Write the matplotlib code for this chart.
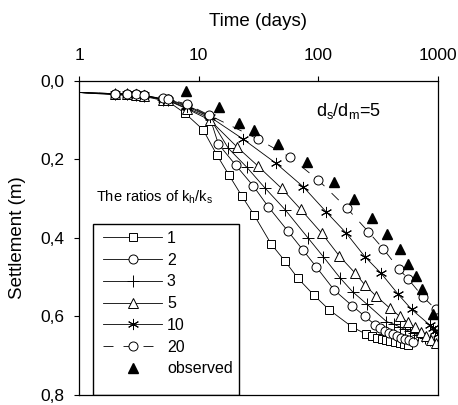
import matplotlib
matplotlib.use("Agg")
import matplotlib.pyplot as plt
from matplotlib.patches import Rectangle
from matplotlib.ticker import NullLocator

plt.rcParams['font.family'] = ['Liberation Sans', 'DejaVu Sans']
plt.rcParams['mathtext.fontset'] = 'custom'
plt.rcParams['mathtext.rm'] = 'Liberation Sans'
plt.rcParams['mathtext.it'] = 'Liberation Sans:italic'

# ---- data (time in days, settlement in m) ----
t_r1 = [1, 2, 2.5, 3, 3.5, 5, 5.5, 7.7, 10.9, 14.2, 17.9, 23, 29.2, 40.4, 52.6, 67.1, 92, 123, 192,
        250, 280, 310, 340, 370, 400, 440, 480, 520, 560]
s_r1 = [0.03, 0.036, 0.037, 0.038, 0.04, 0.05, 0.052, 0.083, 0.125, 0.189, 0.24, 0.294, 0.343, 0.416,
        0.459, 0.502, 0.546, 0.583, 0.627, 0.645, 0.651, 0.655, 0.658, 0.661, 0.663, 0.666, 0.668,
        0.67, 0.672]

t_r2 = [1, 2, 2.5, 3, 3.5, 5, 5.5, 8, 12.3, 14.6, 20.4, 28.6, 38.2, 55.4, 74.8, 95.5, 135.8, 192, 245,
        300, 330, 360, 390, 420, 450, 490, 530, 570, 620]
s_r2 = [0.03, 0.033, 0.034, 0.035, 0.037, 0.046, 0.047, 0.063, 0.09, 0.161, 0.215, 0.268, 0.321,
        0.382, 0.432, 0.473, 0.533, 0.573, 0.6, 0.622, 0.63, 0.636, 0.641, 0.646, 0.65, 0.654,
        0.658, 0.661, 0.664]

t_r3 = [1, 2, 2.5, 3, 3.5, 5, 5.5, 8, 12.4, 17.7, 25.2, 35.8, 53, 82.4, 110, 151, 193, 253, 371,
        430, 480, 530, 580, 630, 680, 730, 780, 850, 920]
s_r3 = [0.03, 0.034, 0.035, 0.036, 0.038, 0.048, 0.049, 0.07, 0.095, 0.172, 0.22, 0.273, 0.329,
        0.401, 0.448, 0.501, 0.537, 0.568, 0.613, 0.62, 0.627, 0.633, 0.638, 0.643, 0.647, 0.651,
        0.655, 0.659, 0.663]

t_r5 = [1, 2, 2.5, 3, 3.5, 5, 5.5, 8, 12.4, 20.8, 31.5, 49.3, 71.1, 106.6, 149.7, 202, 245, 301, 396,
        480, 560, 640, 720, 800, 880, 960]
s_r5 = [0.03, 0.034, 0.035, 0.036, 0.038, 0.048, 0.05, 0.072, 0.1, 0.168, 0.218, 0.274, 0.327,
        0.388, 0.446, 0.489, 0.52, 0.547, 0.579, 0.6, 0.615, 0.628, 0.64, 0.65, 0.66, 0.667]

t_r10 = [1, 2, 2.5, 3, 3.5, 5, 5.5, 8, 12.4, 23.6, 44.2, 74.8, 115.6, 170, 245, 334, 466, 601, 855,
         900, 950, 1000]
s_r10 = [0.03, 0.033, 0.034, 0.035, 0.037, 0.047, 0.048, 0.066, 0.092, 0.149, 0.21, 0.27, 0.333,
         0.387, 0.448, 0.49, 0.544, 0.582, 0.622, 0.63, 0.638, 0.645]

t_r20 = [1, 2, 2.5, 3, 3.5, 5, 5.5, 8, 12.3, 31.5, 58, 100, 174, 261, 349, 474, 564, 753, 961]
s_r20 = [0.03, 0.033, 0.034, 0.035, 0.036, 0.045, 0.046, 0.06, 0.088, 0.149, 0.195, 0.253, 0.325,
         0.384, 0.428, 0.48, 0.505, 0.551, 0.582]

t_obs = [7.9, 14.8, 21.6, 29, 46.2, 80.8, 136, 199, 282, 377, 481, 557, 655, 730, 912]
s_obs = [0.025, 0.068, 0.107, 0.125, 0.161, 0.207, 0.257, 0.3, 0.35, 0.39, 0.429, 0.466, 0.497,
         0.531, 0.594]

x_ticks = [1, 10, 100, 1000]
x_ticklabels = ['1', '10', '100', '1000']
y_ticks = [0.0, 0.2, 0.4, 0.6, 0.8]
y_ticklabels = ['0,0', '0,2', '0,4', '0,6', '0,8']

W, H = 458, 405
fig = plt.figure(figsize=(W / 100, H / 100), dpi=100)
L, R, T, B = 79, 438, 80.7, 395
ax = fig.add_axes([L / W, 1 - B / H, (R - L) / W, (B - T) / H])

lw = 0.6
mew = 0.7
common = dict(color='black', lw=lw, mfc='white', mec='black', mew=mew, markevery=slice(1, None))
h1, = ax.plot(t_r1, s_r1, marker='s', ms=6, label='1', **common)
h2, = ax.plot(t_r2, s_r2, marker='o', ms=6.5, label='2', **common)
h3, = ax.plot(t_r3, s_r3, marker='+', ms=8, label='3', **common)
h5, = ax.plot(t_r5, s_r5, marker='^', ms=7, label='5', **common)
h10, = ax.plot(t_r10, s_r10, marker=(6, 2, 0), ms=8, label='10', **common)
h20, = ax.plot(t_r20, s_r20, marker='o', ms=6.5, label='20', ls=(0, (12, 12)), **common)
hobs, = ax.plot(t_obs, s_obs, ls='none', marker='^', ms=7.5, color='black', mfc='black',
                mec='black', label='observed')

ax.set_xscale('log')
ax.set_xlim(1, 1000)
ax.set_ylim(0.8, 0.0)
ax.xaxis.tick_top()
ax.set_xticks(x_ticks)
ax.set_xticklabels(x_ticklabels)
ax.xaxis.set_minor_locator(NullLocator())
ax.set_yticks(y_ticks)
ax.set_yticklabels(y_ticklabels)
ax.tick_params(direction='out', length=3.6, width=0.8, labelsize=12.5, colors='black')
ax.tick_params(axis='x', pad=9)
ax.tick_params(axis='y', pad=7)
for sp in ax.spines.values():
    sp.set_linewidth(0.9)
    sp.set_color('black')

fig.text(258 / W, 1 - 21 / H, 'Time (days)', ha='center', va='center', fontsize=13.5)
fig.text(18 / W, 1 - 238 / H, 'Settlement (m)', ha='center', va='center', rotation=90, fontsize=13.5)

def ax_x(px):
    return (px - L) / (R - L)

def ax_y(py):
    return (B - py) / (B - T)

ax.text(ax_x(316), ax_y(111), r'd$\mathregular{_s}$/d$\mathregular{_m}$=5', ha='left', va='center',
        fontsize=13, transform=ax.transAxes)
ax.text(ax_x(96), ax_y(197), r'The ratios of k$\mathregular{_h}$/k$\mathregular{_s}$', ha='left',
        va='center', fontsize=10.5, transform=ax.transAxes)

ax.add_patch(Rectangle((ax_x(93), 0), ax_x(239) - ax_x(93), ax_y(224), transform=ax.transAxes,
                       fill=False, lw=1.0, ec='black', zorder=5))
leg = ax.legend(handles=[h1, h2, h3, h5, h10, h20, hobs], loc='upper left',
                bbox_to_anchor=(ax_x(103), ax_y(231)), frameon=False, fontsize=11.5,
                handlelength=3.7, handletextpad=0.3, labelspacing=0.42, borderpad=0,
                borderaxespad=0)

fig.savefig('out.png', dpi=100)
